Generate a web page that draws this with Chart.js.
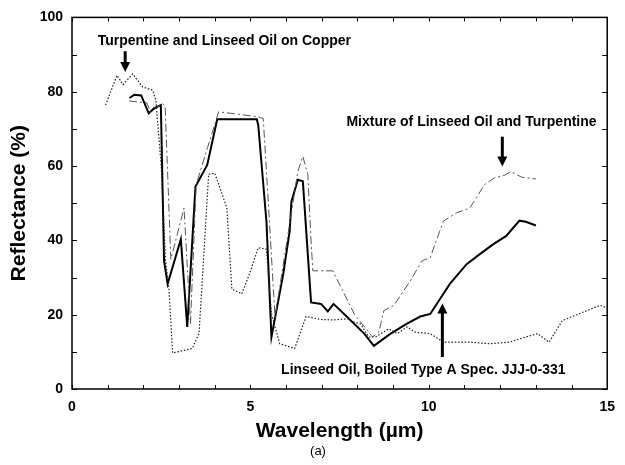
<!DOCTYPE html>
<html>
<head>
<meta charset="utf-8">
<script src="https://cdn.jsdelivr.net/npm/chart.js@4/dist/chart.umd.min.js"></script>
<style>
  html, body { margin: 0; padding: 0; background: #fff; }
  #wrap { width: 625px; height: 465px; position: relative; }
</style>
</head>
<body>
<div id="wrap"><canvas id="chart"></canvas></div>
<script>
// Linseed Oil, Boiled Type A Spec. JJJ-0-331 (thick solid)
const boiledX = [1.61, 1.75, 1.94, 2.15, 2.3, 2.49, 2.58, 2.68, 3.05, 3.23, 3.46, 3.79, 4.07, 5.18, 5.22, 5.45, 5.59, 5.92, 6.1, 6.15, 6.33, 6.47, 6.7, 6.98, 7.17, 7.33, 7.72, 8.19, 8.46, 8.93, 9.39, 9.76, 10.04, 10.59, 11.06, 11.43, 11.8, 12.17, 12.54, 12.72, 13.0];
const boiledY = [78.3, 79.2, 79, 74.2, 75.5, 76.4, 34.5, 28.3, 40.3, 16.7, 54.5, 60.3, 72.6, 72.6, 71, 45, 14, 30.9, 42.5, 50.5, 56.3, 55.9, 23.3, 22.9, 20.9, 22.9, 19.3, 14.9, 11.6, 14.9, 17.6, 19.5, 20.2, 28.3, 33.6, 36.3, 38.9, 41.2, 45.3, 45.0, 44];

// Mixture of Linseed Oil and Turpentine (thin dash-dot)
const mixX = [1.6, 2.1, 2.2, 2.54, 2.61, 2.77, 3.14, 3.32, 3.48, 3.8, 4.11, 5.18, 5.36, 5.5, 5.69, 6.33, 6.47, 6.61, 6.7, 6.75, 7.31, 7.91, 8.42, 8.6, 8.74, 9.02, 9.48, 9.81, 10.04, 10.41, 10.78, 11.15, 11.56, 11.84, 12.12, 12.3, 12.6, 13.0];
const mixY = [77.5, 77, 74.5, 76.8, 76.2, 34.9, 48.7, 17.6, 55, 65, 74.6, 73.3, 72.8, 50.5, 19.3, 58.6, 62.6, 57.7, 39.8, 31.8, 31.8, 20.2, 14, 15.3, 21.1, 22.5, 29.1, 34.5, 35.4, 45.2, 47.4, 48.7, 55, 56.8, 57.5, 58.5, 57, 56.5];

// Turpentine and Linseed Oil on Copper (thin dotted)
const copperX = [0.94, 1.26, 1.43, 1.70, 1.98, 2.26, 2.35, 2.5, 2.62, 2.72, 2.82, 3.1, 3.37, 3.56, 3.65, 3.83, 4.0, 4.16, 4.34, 4.48, 4.76, 4.99, 5.22, 5.45, 5.59, 5.82, 6.24, 6.56, 6.98, 7.35, 7.72, 7.91, 8.09, 8.32, 8.51, 8.88, 9.11, 9.39, 9.62, 10.04, 10.41, 11.15, 11.7, 12.26, 12.72, 13.05, 13.37, 13.74, 14.2, 14.8, 15.0];
const copperY = [76.4, 84.4, 81.9, 84.8, 81.3, 80.4, 77.7, 60, 35, 26.5, 9.7, 10.3, 10.9, 15, 29, 57.8, 58.1, 53.7, 48.7, 26.9, 25.6, 31.4, 38, 37.6, 20.2, 12.2, 10.9, 19.5, 18.7, 18.6, 18.9, 18, 17.5, 14, 14, 16.2, 14.9, 16.7, 15.3, 14.9, 12.6, 12.6, 12.2, 12.6, 14, 14.9, 12.6, 18.4, 20.2, 22.5, 21.8];

const xTickLabels = [0, 5, 10, 15];
const yTickLabels = [0, 20, 40, 60, 80, 100];

// callouts: text anchor and arrow (data coords)
const notes = [
  { text: 'Turpentine and Linseed Oil on Copper', x: 0.72, y: 93.6, ax: 1.49, from: 90.9, to: 85.3 },
  { text: 'Mixture of Linseed Oil and Turpentine', x: 7.69, y: 71.7, ax: 12.06, from: 67.9, to: 59.9 },
  { text: 'Linseed Oil, Boiled Type A Spec. JJJ-0-331', x: 5.86, y: 5.1, ax: 10.38, from: 8.6, to: 23.0 }
];

const FONT = '"Liberation Sans", Arial, Helvetica, sans-serif';

function pts(xs, ys) {
  return xs.map((x, i) => ({ x, y: ys[i] }));
}

const framePlugin = {
  id: 'frame',
  afterDraw(chart) {
    const { ctx, chartArea: a, scales: { x, y } } = chart;
    ctx.save();
    ctx.strokeStyle = '#000';
    ctx.lineWidth = 1.5;
    ctx.strokeRect(a.left, a.top, a.right - a.left, a.bottom - a.top);

    // inward ticks on all four sides
    ctx.lineWidth = 1;
    ctx.beginPath();
    x.ticks.forEach((t) => {
      const px = Math.round(x.getPixelForValue(t.value)) + 0.5;
      ctx.moveTo(px, a.bottom); ctx.lineTo(px, a.bottom - 4);
      ctx.moveTo(px, a.top); ctx.lineTo(px, a.top + 4);
    });
    y.ticks.forEach((t) => {
      const py = Math.round(y.getPixelForValue(t.value)) + 0.5;
      ctx.moveTo(a.left, py); ctx.lineTo(a.left + 5, py);
      ctx.moveTo(a.right, py); ctx.lineTo(a.right - 5, py);
    });
    ctx.stroke();

    // callouts
    ctx.fillStyle = '#000';
    ctx.font = 'bold 14px ' + FONT;
    ctx.textBaseline = 'middle';
    ctx.textAlign = 'left';
    notes.forEach((n) => {
      ctx.fillText(n.text, x.getPixelForValue(n.x), y.getPixelForValue(n.y));
      const ax = x.getPixelForValue(n.ax);
      const y0 = y.getPixelForValue(n.from);
      const y1 = y.getPixelForValue(n.to);
      const dir = y1 > y0 ? 1 : -1;
      ctx.lineWidth = 3;
      ctx.beginPath();
      ctx.moveTo(ax, y0);
      ctx.lineTo(ax, y1 - dir * 8);
      ctx.stroke();
      ctx.beginPath();
      ctx.moveTo(ax - 5, y1 - dir * 10);
      ctx.lineTo(ax + 5, y1 - dir * 10);
      ctx.lineTo(ax, y1);
      ctx.closePath();
      ctx.fill();
    });

    // panel label
    ctx.font = '13px ' + FONT;
    ctx.textAlign = 'center';
    ctx.fillText('(a)', 318, 451);
    ctx.restore();
  }
};

new Chart(document.getElementById('chart'), {
  type: 'line',
  data: {
    datasets: [
      {
        label: 'Turpentine and Linseed Oil on Copper',
        data: pts(copperX, copperY),
        borderColor: '#222',
        borderWidth: 1.2,
        borderDash: [1.5, 1.8],
        pointRadius: 0,
        tension: 0
      },
      {
        label: 'Mixture of Linseed Oil and Turpentine',
        data: pts(mixX, mixY),
        borderColor: '#555',
        borderWidth: 1,
        borderDash: [8, 3, 2, 3],
        pointRadius: 0,
        tension: 0
      },
      {
        label: 'Linseed Oil, Boiled Type A Spec. JJJ-0-331',
        data: pts(boiledX, boiledY),
        borderColor: '#000',
        borderWidth: 2,
        pointRadius: 0,
        tension: 0
      }
    ]
  },
  options: {
    responsive: true,
    maintainAspectRatio: false,
    animation: false,
    layout: { padding: { top: 15, right: 13, left: 0, bottom: 0 } },
    plugins: { legend: { display: false }, tooltip: { enabled: false } },
    scales: {
      x: {
        type: 'linear',
        min: 0,
        max: 15,
        grid: { display: false, drawTicks: false },
        border: { display: false },
        ticks: {
          stepSize: 1,
          padding: 10,
          maxRotation: 0,
          autoSkip: false,
          color: '#000',
          font: { family: FONT, size: 14, weight: 'bold' },
          callback: (v) => (xTickLabels.includes(v) ? String(v) : '')
        },
        title: {
          display: true,
          text: 'Wavelength (\u00b5m)',
          color: '#000',
          font: { family: FONT, size: 21, weight: 'bold' },
          padding: { top: 0, bottom: 21 }
        },
        afterFit: (s) => { s.height = 76; }
      },
      y: {
        min: 0,
        max: 100,
        grid: { display: false, drawTicks: false },
        border: { display: false },
        ticks: {
          stepSize: 10,
          padding: 9,
          autoSkip: false,
          color: '#000',
          font: { family: FONT, size: 14, weight: 'bold' },
          callback: (v) => (yTickLabels.includes(v) ? String(v) : '')
        },
        title: {
          display: true,
          text: 'Reflectance (%)',
          color: '#000',
          font: { family: FONT, size: 21, weight: 'bold' },
          padding: { top: 7, bottom: 0 }
        },
        afterFit: (s) => { s.width = 72; }
      }
    }
  },
  plugins: [framePlugin]
});
</script>
</body>
</html>
